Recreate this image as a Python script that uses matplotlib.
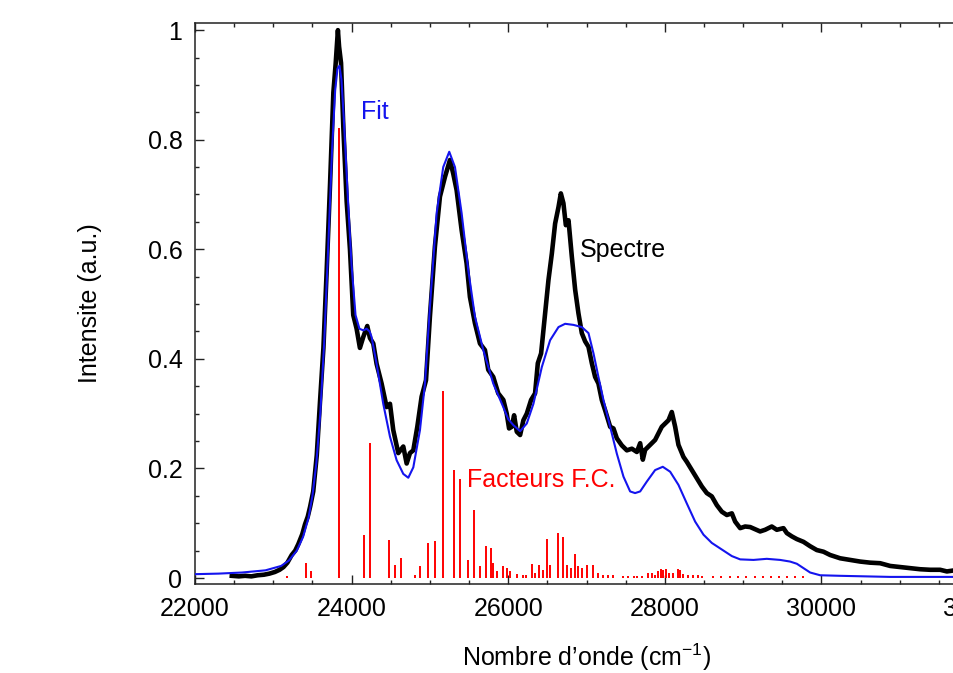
import matplotlib
matplotlib.use("Agg")
import matplotlib.pyplot as plt
from matplotlib.ticker import MultipleLocator, FixedLocator, FixedFormatter

plt.rcParams['font.family'] = ['Liberation Sans', 'DejaVu Sans']
plt.rcParams['mathtext.fontset'] = 'custom'
plt.rcParams['mathtext.rm'] = 'Liberation Sans'

# measured spectrum (black)
spec_x = [22470, 22560, 22640, 22720, 22800, 22880, 22950, 23020, 23080, 23130,
          23180, 23235, 23280, 23320, 23370, 23405, 23440, 23470, 23510, 23555,
          23597, 23640, 23680, 23725, 23767, 23797, 23825, 23840, 23865, 23895,
          23937, 23979, 24021, 24064, 24106, 24149, 24200, 24234, 24277, 24319,
          24383, 24447, 24490, 24532, 24596, 24660, 24703, 24745, 24788, 24839,
          24894, 24950, 25000, 25064, 25128, 25192, 25256, 25298, 25341, 25405,
          25469, 25511, 25575, 25639, 25703, 25745, 25809, 25873, 25938, 25981,
          26011, 26045, 26075, 26109, 26152, 26194, 26237, 26292, 26343, 26378,
          26420, 26471, 26514, 26557, 26599, 26642, 26672, 26705, 26736, 26770,
          26812, 26855, 26897, 26940, 26982, 27025, 27068, 27110, 27152, 27195,
          27238, 27302, 27344, 27387, 27451, 27515, 27579, 27643, 27685, 27719,
          27749, 27791, 27834, 27876, 27919, 27961, 28004, 28047, 28089, 28132,
          28174, 28238, 28281, 28345, 28409, 28473, 28536, 28600, 28664, 28728,
          28792, 28856, 28898, 28962, 29026, 29090, 29153, 29217, 29281, 29366,
          29430, 29515, 29558, 29622, 29686, 29771, 29856, 29941, 30026, 30111,
          30239, 30367, 30495, 30622, 30750, 30878, 31005, 31133, 31261, 31389,
          31516, 31602, 31700, 31800, 32000]
spec_y = [0.004, 0.003, 0.004, 0.003, 0.005, 0.006, 0.008, 0.011, 0.015, 0.020,
          0.028, 0.042, 0.050, 0.062, 0.080, 0.098, 0.112, 0.130, 0.158, 0.224,
          0.323, 0.420, 0.555, 0.720, 0.886, 0.940, 1.000, 0.970, 0.940, 0.820,
          0.687, 0.600, 0.480, 0.455, 0.420, 0.440, 0.460, 0.438, 0.428, 0.391,
          0.355, 0.312, 0.318, 0.270, 0.228, 0.240, 0.209, 0.228, 0.233, 0.276,
          0.331, 0.361, 0.477, 0.605, 0.696, 0.732, 0.763, 0.738, 0.708, 0.635,
          0.574, 0.513, 0.465, 0.428, 0.416, 0.380, 0.367, 0.337, 0.325, 0.300,
          0.273, 0.276, 0.297, 0.267, 0.261, 0.288, 0.300, 0.325, 0.337, 0.392,
          0.410, 0.483, 0.544, 0.592, 0.647, 0.677, 0.702, 0.684, 0.644, 0.653,
          0.587, 0.526, 0.483, 0.447, 0.432, 0.422, 0.392, 0.367, 0.355, 0.325,
          0.306, 0.276, 0.273, 0.255, 0.242, 0.233, 0.236, 0.230, 0.246, 0.216,
          0.234, 0.240, 0.246, 0.252, 0.264, 0.276, 0.282, 0.288, 0.303, 0.276,
          0.243, 0.221, 0.212, 0.197, 0.182, 0.167, 0.155, 0.149, 0.133, 0.121,
          0.115, 0.118, 0.103, 0.091, 0.094, 0.093, 0.089, 0.085, 0.088, 0.094,
          0.088, 0.091, 0.082, 0.076, 0.071, 0.066, 0.058, 0.051, 0.048, 0.042,
          0.036, 0.033, 0.030, 0.028, 0.027, 0.022, 0.020, 0.018, 0.016, 0.015,
          0.015, 0.012, 0.014, 0.013, 0.012]

# fitted curve (blue)
fit_x = [22000, 22300, 22600, 22900, 23100, 23200, 23300, 23380, 23450, 23500,
         23550, 23600, 23650, 23700, 23750, 23790, 23820, 23845, 23870, 23900,
         23950, 24000, 24050, 24100, 24150, 24191, 24230, 24255, 24319, 24404,
         24490, 24575, 24660, 24724, 24788, 24873, 24937, 25000, 25086, 25170,
         25247, 25320, 25405, 25490, 25575, 25682, 25809, 25937, 26000, 26066,
         26152, 26237, 26322, 26429, 26535, 26642, 26727, 26833, 26940, 27025,
         27089, 27152, 27216, 27302, 27387, 27472, 27557, 27620, 27685, 27770,
         27876, 27974, 28068, 28174, 28281, 28387, 28494, 28600, 28728, 28856,
         28962, 29132, 29302, 29473, 29600, 29686, 29771, 29856, 29984, 30239,
         30878, 32000]
fit_y = [0.007, 0.008, 0.010, 0.014, 0.022, 0.032, 0.050, 0.075, 0.110, 0.150,
         0.210, 0.300, 0.430, 0.600, 0.780, 0.890, 0.930, 0.935, 0.910, 0.840,
         0.700, 0.570, 0.480, 0.455, 0.452, 0.455, 0.450, 0.440, 0.391, 0.318,
         0.258, 0.215, 0.190, 0.183, 0.202, 0.270, 0.355, 0.495, 0.666, 0.750,
         0.778, 0.750, 0.666, 0.562, 0.477, 0.416, 0.355, 0.312, 0.290, 0.279,
         0.268, 0.282, 0.318, 0.385, 0.434, 0.458, 0.464, 0.462, 0.458, 0.447,
         0.410, 0.367, 0.325, 0.276, 0.227, 0.185, 0.158, 0.155, 0.158, 0.176,
         0.197, 0.203, 0.194, 0.170, 0.136, 0.103, 0.079, 0.064, 0.052, 0.040,
         0.034, 0.033, 0.035, 0.033, 0.030, 0.026, 0.018, 0.010, 0.005, 0.004,
         0.002, 0.002]

# Franck-Condon factors (red sticks)
fc_x = [23171, 23418, 23482, 23840, 24160, 24234, 24478, 24560, 24630, 24811,
        24878, 24975, 25066, 25165, 25309, 25385, 25491, 25560, 25641, 25713,
        25781, 25802, 25853, 25938, 25989, 26024, 26109, 26185, 26228, 26301,
        26343, 26399, 26441, 26492, 26535, 26633, 26705, 26748, 26799, 26854,
        26897, 26940, 27012, 27088, 27152, 27216, 27280, 27344, 27470, 27530,
        27600, 27643, 27707, 27791, 27834, 27876, 27919, 27953, 27974, 28017,
        28047, 28102, 28174, 28196, 28238, 28302, 28366, 28430, 28473, 28620,
        28720, 28830, 28940, 29040, 29150, 29250, 29360, 29460, 29560, 29660,
        29760]
fc_y = [0.004, 0.028, 0.013, 0.821, 0.079, 0.246, 0.070, 0.023, 0.036, 0.005,
        0.021, 0.064, 0.068, 0.342, 0.198, 0.181, 0.033, 0.125, 0.022, 0.059,
        0.054, 0.027, 0.012, 0.021, 0.018, 0.012, 0.008, 0.006, 0.006, 0.026,
        0.009, 0.024, 0.015, 0.071, 0.024, 0.082, 0.075, 0.024, 0.018, 0.043,
        0.021, 0.018, 0.023, 0.023, 0.009, 0.006, 0.006, 0.005, 0.004, 0.004,
        0.004, 0.004, 0.004, 0.009, 0.010, 0.006, 0.012, 0.016, 0.015, 0.016,
        0.010, 0.010, 0.016, 0.015, 0.007, 0.005, 0.005, 0.005, 0.004, 0.004,
        0.004, 0.004, 0.004, 0.004, 0.004, 0.004, 0.004, 0.004, 0.004, 0.004,
        0.004]

x_ticks = [22000, 24000, 26000, 28000, 30000, 32000]
y_ticks = [0, 0.2, 0.4, 0.6, 0.8, 1.0]
y_tick_labels = ['0', '0.2', '0.4', '0.6', '0.8', '1']

fig = plt.figure(figsize=(9.54, 6.73), dpi=100)
# axes runs past the right edge, like the cropped original
ax = fig.add_axes([0.2044, 0.1322, 0.8208, 0.8336])

ax.plot(spec_x, spec_y, color='black', linewidth=3.3, zorder=2)
ax.vlines(fc_x, 0, fc_y, colors='red', linewidth=1.4, zorder=3)
ax.plot(fit_x, fit_y, color='#1414ee', linewidth=1.5, zorder=4)

ax.set_xlim(22000, 32000)
ax.set_ylim(-0.011, 1.013)
ax.xaxis.set_major_locator(FixedLocator(x_ticks))
ax.xaxis.set_minor_locator(MultipleLocator(500))
ax.yaxis.set_major_locator(FixedLocator(y_ticks))
ax.yaxis.set_major_formatter(FixedFormatter(y_tick_labels))
ax.yaxis.set_minor_locator(MultipleLocator(0.05))
ax.tick_params(which='both', direction='in', top=True, right=True,
               labelsize=18, pad=9, color='#222222', width=1)
ax.tick_params(which='major', length=6.5)
ax.tick_params(which='minor', length=3)
for sp in ax.spines.values():
    sp.set_linewidth(1.1)
    sp.set_color('#222222')

ax.set_xlabel('Nombre d’onde (cm$^{\\mathregular{-1}}$)', fontsize=18, labelpad=15)
ax.set_ylabel('Intensite (a.u.)', fontsize=18, labelpad=33)

ax.text(24121, 0.85, 'Fit', color='#1414ee', fontsize=18, va='center', ha='left')
ax.text(26918, 0.599, 'Spectre', color='black', fontsize=18, va='center', ha='left')
ax.text(25471, 0.179, 'Facteurs F.C.', color='red', fontsize=18, va='center', ha='left')

fig.savefig('out.png', dpi=100)
